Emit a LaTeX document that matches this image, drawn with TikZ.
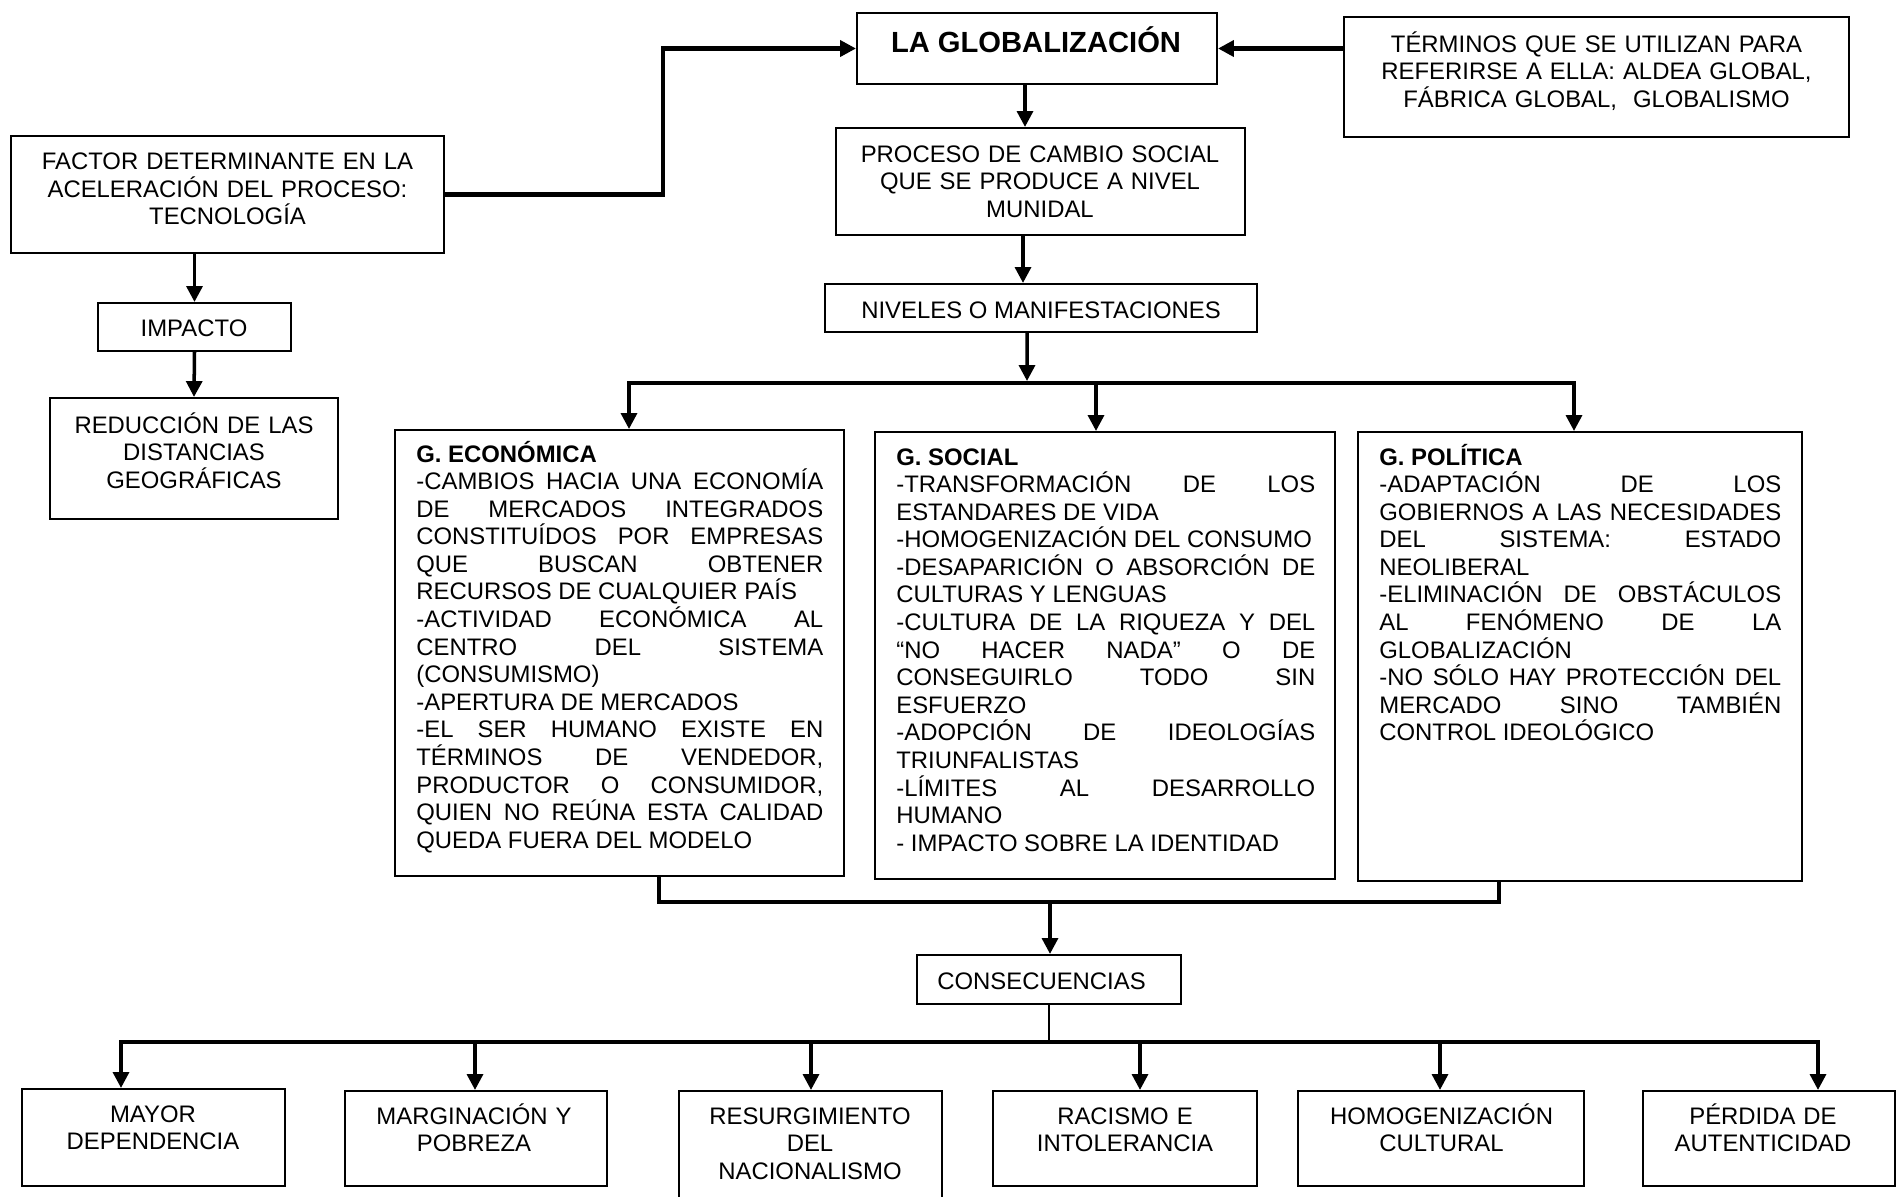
\documentclass[tikz,border=0pt]{standalone}
\usepackage{fontspec}
\setmainfont{Liberation Sans}
\usetikzlibrary{arrows.meta,positioning}
\hyphenpenalty=10000
\exhyphenpenalty=10000
\hbadness=10000

\tikzset{
  caja/.style={draw, line width=1.2pt, inner sep=0pt},
  texto/.style={inner sep=0pt, font=\fontsize{13.6}{15.7}\selectfont},
  centrado/.style={texto, anchor=base, align=center},
  bloque/.style={texto, anchor=base west, align=justify},
  punta/.style={-{Triangle[length=9pt,width=9pt]}},
  flecha/.style={punta, line width=2pt},
  barra/.style={line width=2.6pt, line cap=rect},
  fina/.style={line width=0.6pt}
}

\begin{document}
\begin{tikzpicture}[x=0.02cm, y=-0.02cm]
\useasboundingbox (0,0) rectangle (1897,1197);
\clip (0,0) rectangle (1897,1197);

% parte superior
\node[caja, minimum width=7.2cm, minimum height=1.42cm] (glob) at (1037,48.5) {};
\node[texto, anchor=base, font=\fontsize{16.6}{19}\selectfont\bfseries] (tglob) at (1036,52) {LA GLOBALIZACIÓN};
\node[caja, minimum width=10.1cm, minimum height=2.4cm] (term) at (1596.5,77) {};
\node[centrado, text width=9.6cm] (tterm) at (1596.5,52) {TÉRMINOS QUE SE UTILIZAN PARA\\REFERIRSE A ELLA: ALDEA GLOBAL,\\FÁBRICA GLOBAL,\ \ GLOBALISMO};
\node[caja, minimum width=8.66cm, minimum height=2.34cm] (factor) at (227.5,194.5) {};
\node[centrado, text width=8.2cm] (tfactor) at (227.5,169.5) {FACTOR DETERMINANTE EN LA\\ACELERACIÓN DEL PROCESO:\\TECNOLOGÍA};
\node[caja, minimum width=8.18cm, minimum height=2.14cm] (proceso) at (1040.5,181.5) {};
\node[centrado, text width=7.8cm] (tproceso) at (1040,162) {PROCESO DE CAMBIO SOCIAL\\QUE SE PRODUCE A NIVEL\\MUNIDAL};
\node[caja, minimum width=8.64cm, minimum height=0.96cm] (niveles) at (1041,308) {};
\node[centrado] (tniveles) at (1041,318.5) {NIVELES O MANIFESTACIONES};

% rama izquierda
\node[caja, minimum width=3.86cm, minimum height=0.96cm] (impacto) at (194.5,327) {};
\node[centrado] (timpacto) at (194,336) {IMPACTO};
\node[caja, minimum width=5.76cm, minimum height=2.42cm] (reduc) at (194,458.5) {};
\node[centrado, text width=5.4cm] (treduc) at (194,433) {REDUCCIÓN DE LAS\\DISTANCIAS\\GEOGRÁFICAS};

% niveles
\node[caja, minimum width=8.98cm, minimum height=8.92cm] (econ) at (619.5,653) {};
\node[bloque, text width=8.14cm] (tecon) at (416,462) {\textbf{G. ECONÓMICA}\par
-CAMBIOS HACIA UNA ECONOMÍA\linebreak DE MERCADOS INTEGRADOS\linebreak CONSTITUÍDOS POR EMPRESAS\linebreak QUE BUSCAN OBTENER\linebreak RECURSOS DE CUALQUIER PAÍS\par
-ACTIVIDAD ECONÓMICA AL\linebreak CENTRO DEL SISTEMA\linebreak (CONSUMISMO)\par
-APERTURA DE MERCADOS\par
-EL SER HUMANO EXISTE EN\linebreak TÉRMINOS DE VENDEDOR,\linebreak PRODUCTOR O CONSUMIDOR,\linebreak QUIEN NO REÚNA ESTA CALIDAD\linebreak QUEDA FUERA DEL MODELO};
\node[caja, minimum width=9.2cm, minimum height=8.94cm] (social) at (1105,655.5) {};
\node[bloque, text width=8.38cm] (tsocial) at (896,465) {\textbf{G. SOCIAL}\par
-TRANSFORMACIÓN DE LOS\linebreak ESTANDARES DE VIDA\par
-HOMOGENIZACIÓN DEL CONSUMO\par
-DESAPARICIÓN O ABSORCIÓN DE\linebreak CULTURAS Y LENGUAS\par
-CULTURA DE LA RIQUEZA Y DEL\linebreak “NO HACER NADA” O DE\linebreak CONSEGUIRLO TODO SIN\linebreak ESFUERZO\par
-ADOPCIÓN DE IDEOLOGÍAS\linebreak TRIUNFALISTAS\par
-LÍMITES AL DESARROLLO\linebreak HUMANO\par
- IMPACTO SOBRE LA IDENTIDAD};
\node[caja, minimum width=8.88cm, minimum height=8.98cm] (polit) at (1580,656.5) {};
\node[bloque, text width=8.04cm] (tpolit) at (1379,465) {\textbf{G. POLÍTICA}\par
-ADAPTACIÓN DE LOS\linebreak GOBIERNOS A LAS NECESIDADES\linebreak DEL SISTEMA: ESTADO\linebreak NEOLIBERAL\par
-ELIMINACIÓN DE OBSTÁCULOS\linebreak AL FENÓMENO DE LA\linebreak GLOBALIZACIÓN\par
-NO SÓLO HAY PROTECCIÓN DEL\linebreak MERCADO SINO TAMBIÉN\linebreak CONTROL IDEOLÓGICO};

% consecuencias
\node[caja, minimum width=5.28cm, minimum height=0.98cm] (consec) at (1049,979.5) {};
\node[centrado] (tconsec) at (1041.5,989.5) {CONSECUENCIAS};
\node[caja, minimum width=5.26cm, minimum height=1.94cm] (mayor) at (153.5,1137.5) {};
\node[centrado, text width=5cm] (tmayor) at (153,1122) {MAYOR\\DEPENDENCIA};
\node[caja, minimum width=5.24cm, minimum height=1.9cm] (margin) at (476,1138.5) {};
\node[centrado, text width=5cm] (tmargin) at (474,1124) {MARGINACIÓN Y\\POBREZA};
\node[caja, minimum width=5.26cm, minimum height=2.5cm] (resurg) at (810.5,1153.5) {};
\node[centrado, text width=5cm] (tresurg) at (810,1124) {RESURGIMIENTO\\DEL\\NACIONALISMO};
\node[caja, minimum width=5.28cm, minimum height=1.9cm] (racismo) at (1125,1138.5) {};
\node[centrado, text width=5cm] (tracismo) at (1125,1124) {RACISMO E\\INTOLERANCIA};
\node[caja, minimum width=5.72cm, minimum height=1.9cm] (homog) at (1441,1138.5) {};
\node[centrado, text width=5.4cm] (thomog) at (1441.5,1124) {HOMOGENIZACIÓN\\CULTURAL};
\node[caja, minimum width=5.04cm, minimum height=1.9cm] (perdida) at (1769,1138.5) {};
\node[centrado, text width=4.8cm] (tperdida) at (1763,1124) {PÉRDIDA DE\\AUTENTICIDAD};

% puntos de las barras
\coordinate (g1) at ([xshift=-0.24cm]glob.south);
\coordinate (p1) at ([xshift=-0.35cm]proceso.south);
\coordinate (n1) at ([xshift=-0.28cm]niveles.south);
\coordinate (bN) at (1027,381);
\coordinate (bNi) at (629,383);
\coordinate (bNs) at (1096,383);
\coordinate (bNd) at (1574,383);
\coordinate (bCi) at (659,902);
\coordinate (bC) at (1050,902);
\coordinate (bCd) at (1499,902);
\coordinate (bI) at (121,1042);
\coordinate (b2) at (475,1042);
\coordinate (b3) at (811,1042);
\coordinate (b4) at (1140,1042);
\coordinate (b5) at (1440,1042);
\coordinate (bD) at (1818,1042);

% conectores
\draw[barra, line cap=butt, punta] (factor.east) -- ++(218,0) |- (glob.west);
\draw[barra, line cap=butt, punta] (term.west |- glob.east) -- (glob.east);
\draw[flecha] (g1) -- (g1 |- proceso.north);
\draw[flecha] (p1) -- (p1 |- niveles.north);
\draw[flecha] (n1) -- (bN);
\draw[flecha] (impacto.north |- factor.south) -- (impacto.north);
\draw[flecha] (impacto.south) -- (reduc.north);

\draw[barra] (bNi) -- (bNd);
\draw[flecha] (bNi) -- (bNi |- econ.north);
\draw[flecha] (bNs) -- (bNs |- social.north);
\draw[flecha] (bNd) -- (bNd |- polit.north);

\draw[barra] (bCi |- econ.south) -- (bCi) -- (bCd) -- (bCd |- polit.south);
\draw[flecha] (bC) -- (bC |- consec.north);

\draw[fina] (consec.south) -- (consec.south |- bI);
\draw[barra] (bI) -- (bD);
\draw[flecha] (bI) -- (bI |- mayor.north);
\draw[flecha] (b2) -- (b2 |- margin.north);
\draw[flecha] (b3) -- (b3 |- resurg.north);
\draw[flecha] (b4) -- (b4 |- racismo.north);
\draw[flecha] (b5) -- (b5 |- homog.north);
\draw[flecha] (bD) -- (bD |- perdida.north);
\end{tikzpicture}
\end{document}
